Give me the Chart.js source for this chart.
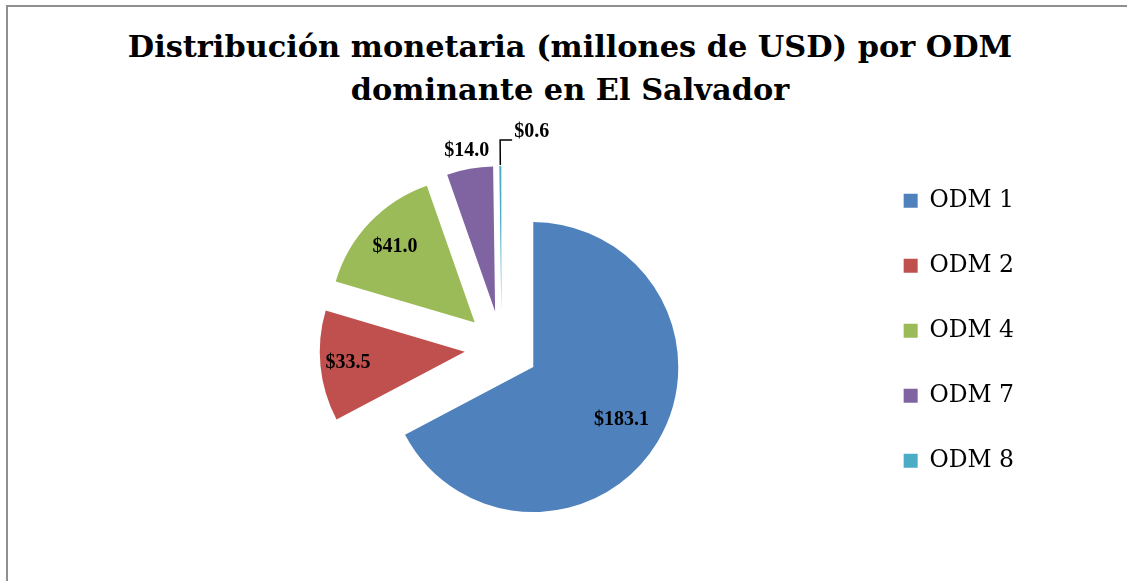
<!DOCTYPE html>
<html lang="es">
<head>
<meta charset="utf-8">
<title>Distribución monetaria por ODM dominante en El Salvador</title>
<script src="https://cdn.jsdelivr.net/npm/chart.js"></script>
<style>
  html, body { margin: 0; padding: 0; background: #fff; overflow: hidden; }
  #wrap { position: relative; width: 1127px; height: 581px; }
  #frame {
    position: absolute; left: 6px; top: 5px; width: 1200px; height: 700px;
    border-top: 2px solid #8f8f8f; border-left: 2px solid #8f8f8f;
  }
  #title {
    position: absolute; left: 14px; width: 1112px; top: 25px;
    text-align: center; color: #000;
    font: bold 30.4px/43px 'DejaVu Serif', serif;
  }
  #chart { position: absolute; left: 0; top: 0; }
</style>
</head>
<body>
<div id="wrap">
  <div id="frame"></div>
  <div id="title">Distribución monetaria (millones de USD) por ODM<br>dominante en El Salvador</div>
  <canvas id="chart" width="1127" height="581"></canvas>
</div>
<script>
// ===== DATA =====
const categorias = ['ODM 1', 'ODM 2', 'ODM 4', 'ODM 7', 'ODM 8'];
const montos     = [183.1, 33.5, 41.0, 14.0, 0.6];   // millones de USD
const colores    = ['#4F81BD', '#C0504D', '#9BBB59', '#8064A2', '#4BACC6'];

// ===== STYLE =====
const EXPLODE = 37;                               // separación de cada porción (px)
const LABEL_R = [0.71, 0.81, 0.76, 1.126, null];  // radio relativo de cada etiqueta, null = con guía

// dibuja cada porción desplazada hacia afuera (pie "explotado" estilo Excel)
const explodePlugin = {
    id: 'explode',
    beforeDatasetDraw(chart, args) {
        const ctx = chart.ctx;
        args.meta.data.forEach(arc => {
            const mid = (arc.startAngle + arc.endAngle) / 2;
            ctx.save();
            ctx.translate(Math.cos(mid) * EXPLODE, Math.sin(mid) * EXPLODE);
            arc.draw(ctx);
            ctx.restore();
        });
        return false;
    }
};

// etiquetas de valor ($xx.x)
const labelPlugin = {
    id: 'valueLabels',
    afterDatasetsDraw(chart) {
        const ctx = chart.ctx;
        const meta = chart.getDatasetMeta(0);
        ctx.save();
        ctx.font = 'bold 20px "Liberation Serif", serif';
        ctx.fillStyle = '#000';
        ctx.strokeStyle = '#000';
        ctx.lineWidth = 1.5;
        meta.data.forEach((arc, i) => {
            const mid = (arc.startAngle + arc.endAngle) / 2;
            const cos = Math.cos(mid), sin = Math.sin(mid);
            const cx = arc.x + cos * EXPLODE;
            const cy = arc.y + sin * EXPLODE;
            const R = arc.outerRadius;
            const txt = '$' + montos[i].toFixed(1);

            if (LABEL_R[i] !== null) {
                ctx.textAlign = 'center';
                ctx.textBaseline = 'middle';
                ctx.fillText(txt, cx + cos * R * LABEL_R[i], cy + sin * R * LABEL_R[i]);
            } else {
                // línea guía
                const x0 = cx + cos * (R + 1), y0 = cy + sin * (R + 1);
                const x1 = cx + cos * (R + 26), y1 = cy + sin * (R + 26);
                ctx.beginPath();
                ctx.moveTo(x0, y0);
                ctx.lineTo(x1, y1);
                ctx.lineTo(x1 + 12, y1);
                ctx.stroke();
                ctx.textAlign = 'left';
                ctx.textBaseline = 'alphabetic';
                ctx.fillText(txt, x1 + 14, y1 - 3);
            }
        });
        ctx.restore();
    }
};

new Chart(document.getElementById('chart'), {
    type: 'pie',
    data: {
        labels: categorias,
        datasets: [{
            data: montos,
            backgroundColor: colores,
            borderWidth: 0,
            hoverOffset: 0
        }]
    },
    options: {
        responsive: false,
        animation: false,
        radius: 145,
        layout: {
            padding: { left: 141, right: 103, top: 147.5, bottom: 32.5 }
        },
        plugins: {
            title: { display: false },
            tooltip: { enabled: false },
            legend: {
                position: 'right',
                align: 'start',
                fullSize: false,
                labels: {
                    boxWidth: 14,
                    boxHeight: 14,
                    padding: 41.5,
                    color: '#000',
                    font: { family: "'DejaVu Serif', serif", size: 23.5 }
                }
            }
        }
    },
    plugins: [explodePlugin, labelPlugin]
});
</script>
</body>
</html>
